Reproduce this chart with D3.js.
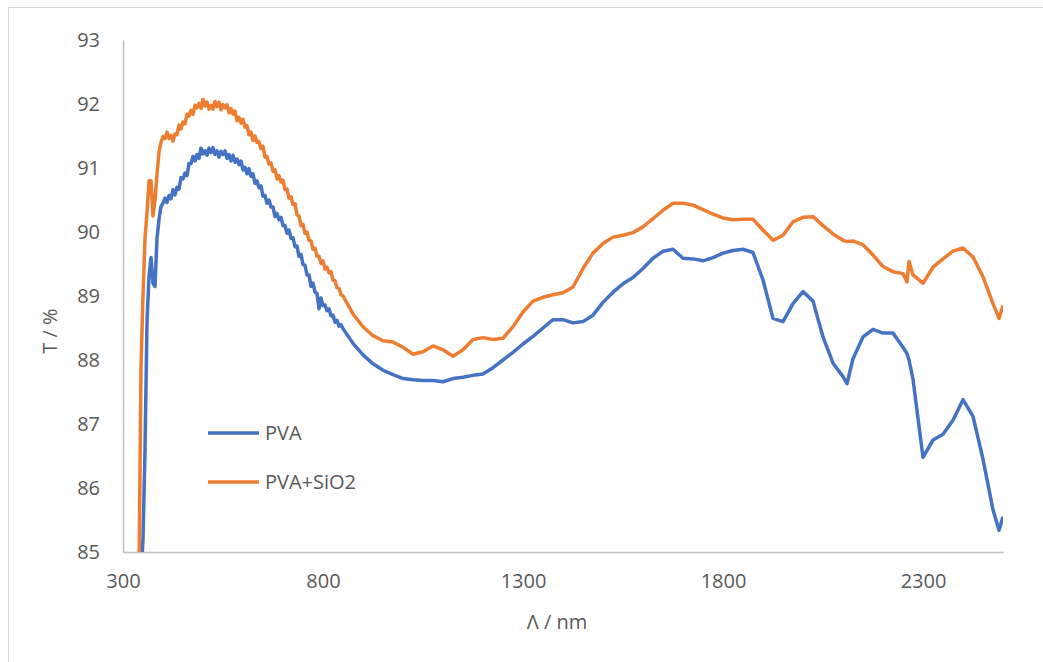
<!DOCTYPE html>
<html>
<head>
<meta charset="utf-8">
<script src="https://cdn.jsdelivr.net/npm/d3@7"></script>
<style>
  body { margin: 0; background: #fff; }
  svg { display: block; }
  text { font-family: "Open Sans", "Liberation Sans", sans-serif; fill: #595959; }
</style>
</head>
<body>
<div id="chart"></div>
<script>
// wavelengths (nm), shared by both series
const wl = [
  340, 345, 350, 355, 360, 365, 370, 375, 380, 385, 390, 395,
  400, 405, 410, 415, 420, 425, 430, 435, 440, 445, 450, 455, 460, 465, 470, 475,
  480, 485, 490, 495, 500, 505, 510, 515, 520, 525, 530, 535, 540, 545, 550, 555,
  560, 565, 570, 575, 580, 585, 590, 595, 600, 605, 610, 615, 620, 625, 630, 635,
  640, 645, 650, 655, 660, 665, 670, 675, 680, 685, 690, 695, 700, 705, 710, 715,
  720, 725, 730, 735, 740, 745, 750, 755, 760, 765, 770, 775, 780, 785, 790, 795,
  800, 805, 810, 815, 820, 825, 830, 835, 840, 845, 850,
  875, 900, 925, 950, 975, 1000, 1025, 1050, 1075, 1100, 1125, 1150, 1175, 1200,
  1225, 1250, 1275, 1300, 1325, 1350, 1375, 1400, 1425, 1450, 1475, 1500,
  1525, 1550, 1575, 1600, 1625, 1650, 1675, 1700, 1725, 1750, 1775, 1800,
  1825, 1850, 1875, 1900, 1925, 1950, 1975, 2000, 2025, 2050, 2075, 2100, 2110,
  2125, 2150, 2175, 2200, 2225, 2250, 2260, 2265, 2275, 2300, 2325, 2350,
  2375, 2400, 2425, 2450, 2475, 2490, 2500
];

const pva = [
  84.0, 84.6, 85.2, 86.6, 88.6, 89.3, 89.6, 89.2, 89.15, 89.9, 90.2, 90.4,
  90.45, 90.53, 90.46, 90.57, 90.52, 90.66, 90.58, 90.70, 90.67, 90.85, 90.83, 90.92, 90.88, 91.07, 91.07, 91.18,
  91.11, 91.21, 91.15, 91.31, 91.22, 91.27, 91.20, 91.31, 91.24, 91.32, 91.21, 91.27, 91.17, 91.26, 91.21, 91.27,
  91.15, 91.21, 91.11, 91.20, 91.09, 91.14, 91.05, 91.11, 90.97, 91.01, 90.91, 90.99, 90.87, 90.91, 90.76, 90.80,
  90.69, 90.72, 90.56, 90.57, 90.45, 90.50, 90.39, 90.39, 90.24, 90.29, 90.19, 90.23, 90.10, 90.10, 89.98, 90.03,
  89.90, 89.91, 89.77, 89.78, 89.62, 89.65, 89.49, 89.48, 89.33, 89.33, 89.15, 89.20, 89.06, 89.04, 88.80, 88.97,
  88.85, 88.86, 88.77, 88.80, 88.69, 88.70, 88.59, 88.62, 88.53, 88.55, 88.49,
  88.26, 88.08, 87.94, 87.84, 87.77, 87.71, 87.69, 87.68, 87.68, 87.66, 87.71, 87.73, 87.76, 87.78,
  87.88, 88.0, 88.12, 88.25, 88.37, 88.5, 88.63, 88.63, 88.58, 88.6, 88.7, 88.9,
  89.06, 89.19, 89.29, 89.43, 89.59, 89.7, 89.73, 89.59, 89.58, 89.55, 89.6, 89.67,
  89.71, 89.73, 89.68, 89.25, 88.65, 88.6, 88.88, 89.07, 88.92, 88.36, 87.95, 87.74, 87.63,
  88.02, 88.36, 88.48, 88.42, 88.42, 88.2, 88.1, 88.0, 87.7, 86.48, 86.75, 86.84,
  87.06, 87.38, 87.12, 86.45, 85.66, 85.34, 85.55
];

const pvaSiO2 = [
  84.6, 87.9, 89.0, 89.9, 90.3, 90.8, 90.8, 90.25, 90.5, 90.9, 91.25, 91.4,
  91.49, 91.46, 91.56, 91.46, 91.51, 91.42, 91.53, 91.52, 91.67, 91.61, 91.72, 91.69, 91.84, 91.81, 91.90, 91.84,
  91.98, 91.94, 92.01, 91.93, 92.07, 91.97, 92.03, 91.92, 91.98, 91.92, 92.04, 91.96, 92.03, 91.91, 91.99, 91.94,
  91.99, 91.86, 91.93, 91.84, 91.89, 91.74, 91.79, 91.70, 91.76, 91.64, 91.66, 91.52, 91.56, 91.43, 91.50, 91.40,
  91.41, 91.30, 91.34, 91.17, 91.18, 91.06, 91.08, 90.95, 90.97, 90.83, 90.88, 90.78, 90.81, 90.66, 90.67, 90.53,
  90.55, 90.43, 90.44, 90.27, 90.25, 90.10, 90.12, 89.98, 90.00, 89.87, 89.86, 89.73, 89.75, 89.62, 89.62, 89.51,
  89.55, 89.42, 89.45, 89.36, 89.38, 89.25, 89.24, 89.13, 89.12, 89.02, 89.00,
  88.72, 88.52, 88.38, 88.3, 88.28, 88.2, 88.09, 88.13, 88.22, 88.16, 88.06, 88.16, 88.32, 88.35,
  88.32, 88.34, 88.52, 88.75, 88.92, 88.98, 89.02, 89.05, 89.14, 89.43, 89.67, 89.82,
  89.92, 89.95, 89.99, 90.08, 90.21, 90.34, 90.45, 90.45, 90.42, 90.35, 90.28, 90.22,
  90.19, 90.2, 90.2, 90.03, 89.87, 89.95, 90.16, 90.23, 90.24, 90.1, 89.97, 89.87, 89.85,
  89.86, 89.8, 89.64, 89.46, 89.38, 89.35, 89.22, 89.54, 89.33, 89.2, 89.45, 89.58,
  89.7, 89.75, 89.61, 89.3, 88.88, 88.65, 88.85
];

const xTicks = [300, 800, 1300, 1800, 2300];
const yTicks = [85, 86, 87, 88, 89, 90, 91, 92, 93];

const series = [
  { name: 'PVA', values: pva, color: '#4472C4' },
  { name: 'PVA+SiO2', values: pvaSiO2, color: '#ED7D31' }
];

if (pva.length !== wl.length || pvaSiO2.length !== wl.length) {
  console.error('length mismatch', wl.length, pva.length, pvaSiO2.length);
}

const W = 1043, H = 662;
const plot = { left: 123, right: 1003, top: 40, bottom: 552 };

const svg = d3.select('#chart').append('svg')
  .attr('width', W)
  .attr('height', H);

// chart border (only top and left edges fall inside the picture)
svg.append('rect')
  .attr('x', 8.5).attr('y', 7.5)
  .attr('width', 1100).attr('height', 700)
  .attr('fill', 'none')
  .attr('stroke', '#d9d9d9')
  .attr('stroke-width', 1);

const x = d3.scaleLinear().domain([300, 2500]).range([plot.left, plot.right]);
const y = d3.scaleLinear().domain([85, 93]).range([plot.bottom, plot.top]);

svg.append('defs').append('clipPath').attr('id', 'clip')
  .append('rect')
  .attr('x', plot.left).attr('y', plot.top)
  .attr('width', plot.right - plot.left)
  .attr('height', plot.bottom - plot.top);

// axes
const xAxis = svg.append('g')
  .attr('transform', `translate(0,${plot.bottom})`)
  .call(d3.axisBottom(x).tickValues(xTicks).tickSize(0).tickPadding(22).tickFormat(d3.format('d')));
const yAxis = svg.append('g')
  .attr('transform', `translate(${plot.left},0)`)
  .call(d3.axisLeft(y).tickValues(yTicks).tickSize(0).tickPadding(23).tickFormat(d3.format('d')));

[xAxis, yAxis].forEach(g => {
  g.select('.domain').attr('stroke', '#bfbfbf').attr('stroke-width', 1.5);
  g.selectAll('text')
    .attr('fill', '#595959')
    .style('font-size', '20px')
    .style('font-family', '"Open Sans", "Liberation Sans", sans-serif');
});

// lines
const line = d3.line()
  .x((d, i) => x(wl[i]))
  .y(d => y(d));

svg.append('g').attr('clip-path', 'url(#clip)')
  .selectAll('path')
  .data(series)
  .join('path')
  .attr('d', d => line(d.values))
  .attr('fill', 'none')
  .attr('stroke', d => d.color)
  .attr('stroke-width', 3.5)
  .attr('stroke-linejoin', 'round');

// axis titles
svg.append('text')
  .attr('x', 557).attr('y', 629)
  .attr('text-anchor', 'middle')
  .style('font-size', '20px')
  .text('\u039B / nm');

svg.append('text')
  .attr('transform', 'translate(57,331) rotate(-90)')
  .attr('text-anchor', 'middle')
  .style('font-size', '20px')
  .text('T / %');

// legend
const legend = svg.append('g').selectAll('g')
  .data(series)
  .join('g')
  .attr('transform', (d, i) => `translate(208,${433 + i * 49})`);
legend.append('line')
  .attr('x1', 0).attr('x2', 51)
  .attr('stroke', d => d.color)
  .attr('stroke-width', 3.5);
legend.append('text')
  .attr('x', 57).attr('dy', '0.35em')
  .style('font-size', '20px')
  .text(d => d.name);
</script>
</body>
</html>
